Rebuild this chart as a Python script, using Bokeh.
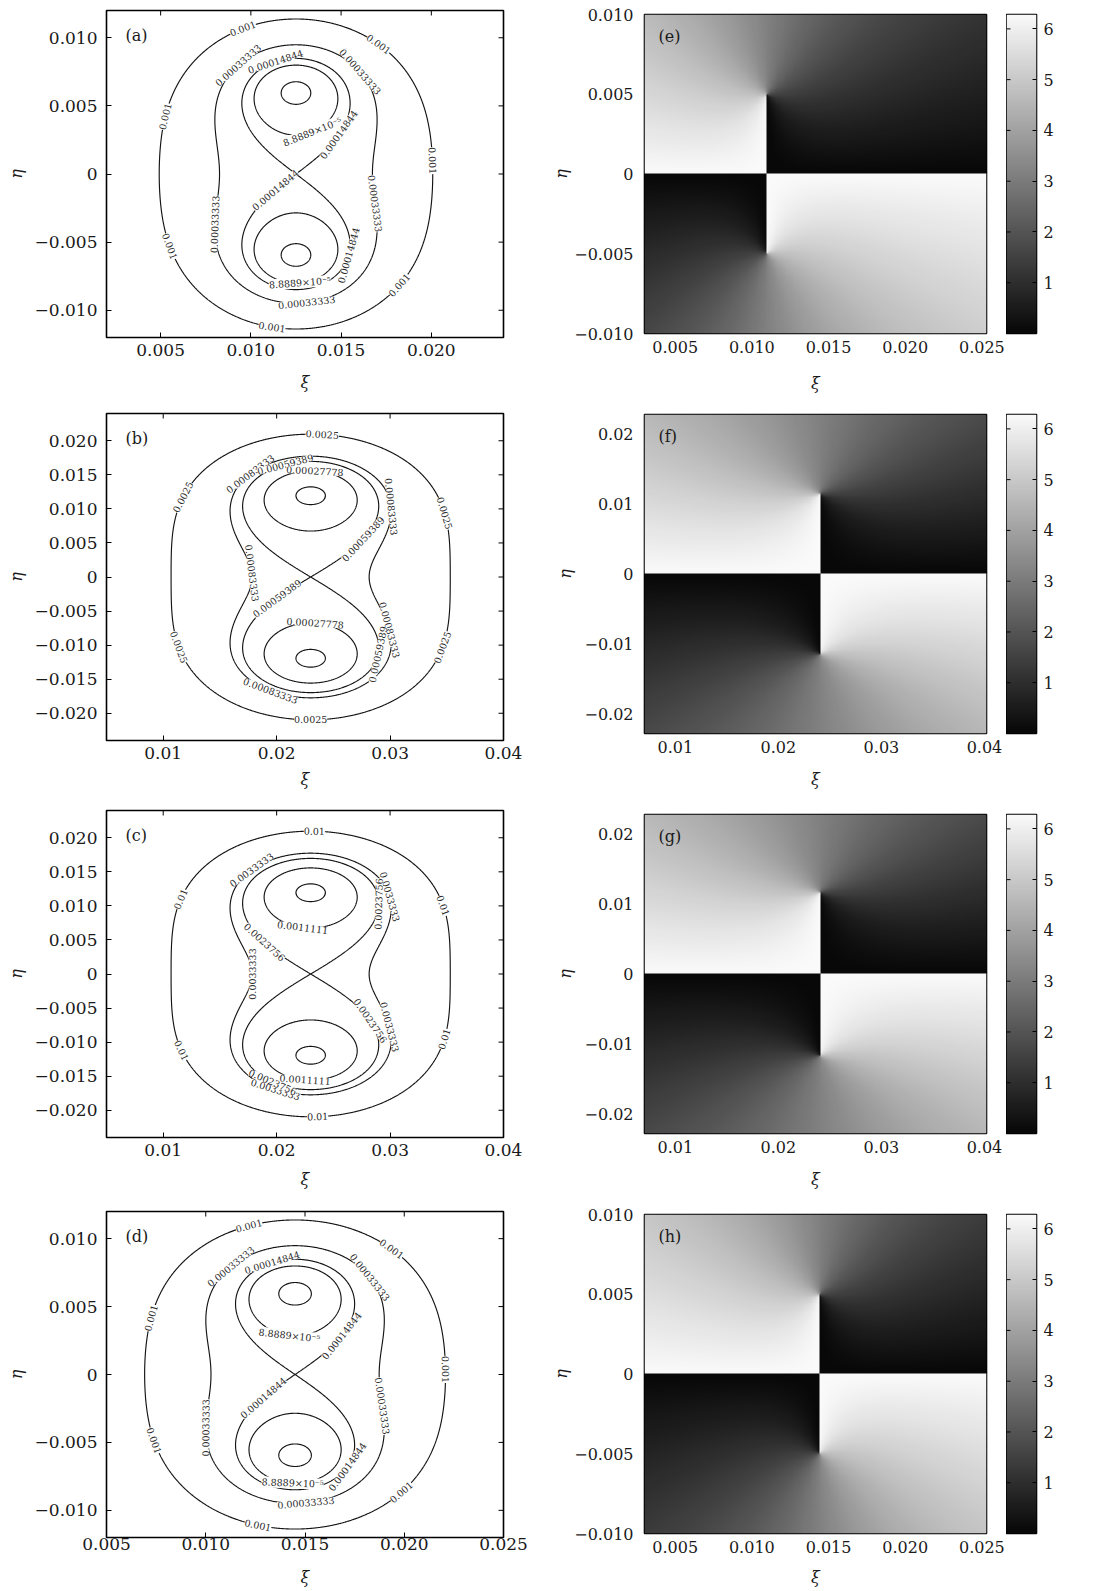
import numpy as np
from bokeh.plotting import figure
from bokeh.layouts import row, column
from bokeh.models import (Range1d, FixedTicker, CustomJSTickFormatter,
                          LinearColorMapper, Label)
from bokeh.core.properties import value
from bokeh.embed import file_html
from bokeh.resources import INLINE

FONT = "DejaVu Serif"

# ---------------- data: contour panels (a)-(d) ----------------
# (xi of centre, eta of the two minima)
a_centre = (0.0125, 0.006)
b_centre = (0.023, 0.012)
c_centre = (0.023, 0.012)
d_centre = (0.0145, 0.006)
a_levels = [1.1111e-5, 8.8889e-5, 0.00014844, 0.00033333, 0.001]
b_levels = [2.7778e-5, 0.00027778, 0.00059389, 0.00083333, 0.0025]
c_levels = [0.00011111, 0.0011111, 0.0023756, 0.0033333, 0.01]
d_levels = [1.1111e-5, 8.8889e-5, 0.00014844, 0.00033333, 0.001]
a_level_text = ["", "8.8889×10⁻⁵", "0.00014844", "0.00033333", "0.001"]
b_level_text = ["", "0.00027778", "0.00059389", "0.00083333", "0.0025"]
c_level_text = ["", "0.0011111", "0.0023756", "0.0033333", "0.01"]
d_level_text = ["", "8.8889×10⁻⁵", "0.00014844", "0.00033333", "0.001"]
SEPARATRIX = 2  # index of the level through the saddle point

# ---------------- data: phase panels (e)-(h) ----------------
e_vortex = (0.011, 0.005)
f_vortex = (0.024, 0.0115)
g_vortex = (0.024, 0.0117)
h_vortex = (0.0144, 0.005)
cbar_ticks = [1, 2, 3, 4, 5, 6]
cbar_labels = ["1", "2", "3", "4", "5", "6"]

# ---------------- ticks ----------------
a_xticks = [0.005, 0.010, 0.015, 0.020]
a_xlabels = ["0.005", "0.010", "0.015", "0.020"]
a_yticks = [-0.010, -0.005, 0.0, 0.005, 0.010]
a_ylabels = ["−0.010", "−0.005", "0", "0.005", "0.010"]
b_xticks = [0.01, 0.02, 0.03, 0.04]
b_xlabels = ["0.01", "0.02", "0.03", "0.04"]
b_yticks = [-0.020, -0.015, -0.010, -0.005, 0.0, 0.005, 0.010, 0.015, 0.020]
b_ylabels = ["−0.020", "−0.015", "−0.010", "−0.005", "0", "0.005", "0.010", "0.015", "0.020"]
d_xticks = [0.005, 0.010, 0.015, 0.020, 0.025]
d_xlabels = ["0.005", "0.010", "0.015", "0.020", "0.025"]
e_xticks = [0.005, 0.010, 0.015, 0.020, 0.025]
e_xlabels = ["0.005", "0.010", "0.015", "0.020", "0.025"]
e_yticks = [-0.010, -0.005, 0.0, 0.005, 0.010]
e_ylabels = ["−0.010", "−0.005", "0", "0.005", "0.010"]
f_xticks = [0.01, 0.02, 0.03, 0.04]
f_xlabels = ["0.01", "0.02", "0.03", "0.04"]
f_yticks = [-0.02, -0.01, 0.0, 0.01, 0.02]
f_ylabels = ["−0.02", "−0.01", "0", "0.01", "0.02"]

# ---------------- label placements (approximate, snapped onto the contours) ----------------
a_lab = [(4, 0.00959, 0.0106), (4, 0.01709, 0.00952), (4, 0.00496, 0.00428), (4, 0.01996, 0.00098),
         (4, 0.00524, -0.00539), (4, 0.01811, -0.00808), (4, 0.01117, -0.01125),
         (3, 0.00903, 0.0082), (3, 0.0158, 0.00734), (3, 0.00802, -0.0037), (3, 0.01663, -0.0022),
         (3, 0.01302, -0.00894),
         (2, 0.01144, 0.00808), (2, 0.01478, 0.00294), (2, 0.01126, -0.0011), (2, 0.01514, -0.00593),
         (1, 0.01302, 0.00404), (1, 0.01264, -0.00723)]
b_lab = [(4, 0.02403, 0.02097), (4, 0.01153, 0.01178), (4, 0.03462, 0.00933), (4, 0.01138, -0.0103),
         (4, 0.03447, -0.0103), (4, 0.023, -0.0211),
         (3, 0.01726, 0.01546), (3, 0.02917, 0.0103), (3, 0.01667, 0.0005), (3, 0.02946, -0.00785),
         (3, 0.01947, -0.01668),
         (2, 0.02079, 0.01645), (2, 0.02712, 0.00589), (2, 0.02006, -0.00318), (2, 0.02771, -0.01128),
         (1, 0.02329, 0.01472), (1, 0.02329, -0.00785)]
c_lab = [(4, 0.02332, 0.02082), (4, 0.01141, 0.01103), (4, 0.03465, 0.01004), (4, 0.01141, -0.01128),
         (4, 0.0348, -0.00956), (4, 0.02362, -0.02109),
         (3, 0.01789, 0.01519), (3, 0.0295, 0.01127), (3, 0.01715, 0.0), (3, 0.0295, -0.00785),
         (3, 0.01979, -0.01716),
         (2, 0.02848, 0.0103), (2, 0.01891, 0.00465), (2, 0.02774, -0.00711), (2, 0.01979, -0.01569),
         (1, 0.02244, 0.00759), (1, 0.02259, -0.01496)]
d_lab = [(4, 0.01214, 0.01104), (4, 0.01932, 0.0092), (4, 0.00716, 0.00417), (4, 0.02203, 0.00037),
         (4, 0.00725, -0.0049), (4, 0.01992, -0.00872), (4, 0.01257, -0.01129),
         (3, 0.01138, 0.00785), (3, 0.01797, 0.007), (3, 0.010, -0.00393), (3, 0.01882, -0.00233),
         (3, 0.01502, -0.00925),
         (2, 0.01341, 0.0081), (2, 0.0167, 0.00294), (2, 0.0129, -0.00172), (2, 0.0173, -0.00687),
         (1, 0.01434, 0.00392), (1, 0.01442, -0.00724)]


def tick_fmt(tvals, tlabs):
    return CustomJSTickFormatter(args=dict(tvals=list(tvals), tlabs=list(tlabs)), code="""
        for (let i = 0; i < tvals.length; i++) {
            if (Math.abs(tvals[i] - tick) < 1e-9) { return tlabs[i]; }
        }
        return "";
    """)


def style_axis(ax, tvals, tlabs, size, standoff, label_standoff, tick_len=5):
    ax.ticker = FixedTicker(ticks=list(tvals))
    ax.formatter = tick_fmt(tvals, tlabs)
    ax.major_label_text_font = FONT
    ax.major_label_text_font_size = size
    ax.major_label_text_color = "#1a1a1a"
    ax.major_label_standoff = standoff
    ax.axis_line_color = None
    ax.major_tick_in = tick_len
    ax.major_tick_out = 0
    ax.major_tick_line_color = "black"
    ax.minor_tick_line_color = None
    ax.axis_label_text_font = FONT
    ax.axis_label_text_font_style = "italic"
    ax.axis_label_text_font_size = "16px"
    ax.axis_label_text_color = "#1a1a1a"
    ax.axis_label_standoff = label_standoff


def base_figure(W, H, xr, yr, bl, br, bt, bb, **kw):
    p = figure(width=W, height=H, x_range=Range1d(*xr), y_range=Range1d(*yr),
               output_backend="svg", toolbar_location=None,
               min_border_left=bl, min_border_right=br, min_border_top=bt, min_border_bottom=bb, **kw)
    p.xgrid.visible = False
    p.ygrid.visible = False
    p.outline_line_color = "black"
    p.outline_line_width = 1.6
    p.background_fill_color = "white"
    return p


def contour_panel(tag, centre, levels, texts, labs, xr, yr, xt, xtl, yt, ytl,
                  H, bt, bb, x_lab_so, x_tick_so):
    W, bl, br = 538, 106, 35
    fw, fh = W - bl - br, H - bt - bb
    p = base_figure(W, H, xr, yr, bl, br, bt, bb)
    xc, a = centre
    K = levels[SEPARATRIX] / a ** 4

    def F(x, y):
        P = (x - xc) ** 2 + (y - a) ** 2
        Q = (x - xc) ** 2 + (y + a) ** 2
        return K * P * Q

    def G(x, y):
        P = (x - xc) ** 2 + (y - a) ** 2
        Q = (x - xc) ** 2 + (y + a) ** 2
        gx = K * (2 * (x - xc) * Q + 2 * (x - xc) * P)
        gy = K * (2 * (y - a) * Q + 2 * (y + a) * P)
        return gx, gy

    xs = np.linspace(xr[0], xr[1], 600)
    ys = np.linspace(yr[0], yr[1], 600)
    X, Y = np.meshgrid(xs, ys)
    p.contour(xs, ys, F(X, Y), levels, line_color="#141414", line_width=1.15)

    sx = fw / (xr[1] - xr[0])
    sy = fh / (yr[1] - yr[0])
    lx, ly, lt, la = [], [], [], []
    step_max = 0.2 * (xr[1] - xr[0]) / 20
    for (li, x, y) in labs:
        L = levels[li]
        for _ in range(60):
            gx, gy = G(x, y)
            g2 = gx * gx + gy * gy
            if g2 == 0:
                break
            dx = -(F(x, y) - L) * gx / g2
            dy = -(F(x, y) - L) * gy / g2
            n = np.hypot(dx, dy)
            if n > step_max:
                dx, dy = dx * step_max / n, dy * step_max / n
            x, y = x + dx, y + dy
        gx, gy = G(x, y)
        ang = np.arctan2(gx / sx, -gy / sy)
        while ang > np.pi / 2:
            ang -= np.pi
        while ang <= -np.pi / 2:
            ang += np.pi
        lx.append(float(x)); ly.append(float(y)); lt.append(texts[li]); la.append(float(ang))
    p.text(x=lx, y=ly, text=lt, angle=la, text_font=value(FONT), text_font_size="9.5px",
           text_align="center", text_baseline="middle", text_color="#2a2a2a",
           background_fill_color="white")

    style_axis(p.xaxis[0], xt, xtl, "17px", x_tick_so, x_lab_so)
    style_axis(p.yaxis[0], yt, ytl, "17px", 9, 6)
    p.xaxis[0].axis_label = "ξ"
    p.yaxis[0].axis_label = "η"
    # mirrored inward ticks on the top and right edges
    p.ray(x=list(xt), y=yr[1], length=5, angle=-np.pi / 2, length_units="screen",
          line_color="black", line_width=1)
    p.ray(x=xr[1], y=list(yt), length=5, angle=np.pi, length_units="screen",
          line_color="black", line_width=1)
    p.add_layout(Label(x=xr[0] + 19 / sx, y=yr[1] - 25 / sy, text=tag, text_font=FONT,
                       text_font_size="16px", text_baseline="middle", text_color="#1a1a1a"))
    return p


GREYS = ["#%02x%02x%02x" % (v, v, v) for v in np.linspace(8, 250, 256).astype(int)]
mapper = LinearColorMapper(palette=GREYS, low=0, high=2 * np.pi)


def phase_panel(tag, vortex, xr, yr, xt, xtl, yt, ytl, H, bt, bb, y_lab_so, x_lab_so):
    W, bl, br = 468, 106, 20
    fw, fh = W - bl - br, H - bt - bb
    p = base_figure(W, H, xr, yr, bl, br, bt, bb)
    x0, y0 = vortex
    xs = np.linspace(xr[0], xr[1], 380)
    ys = np.linspace(yr[0], yr[1], 360)
    X, Y = np.meshgrid(xs, ys)
    phi = np.mod(np.arctan2(Y - y0, X - x0) + np.arctan2(Y + y0, X - x0), 2 * np.pi)
    p.image(image=[phi], x=xr[0], y=yr[0], dw=xr[1] - xr[0], dh=yr[1] - yr[0],
            color_mapper=mapper)
    style_axis(p.xaxis[0], xt, xtl, "16px", 7, x_lab_so, tick_len=0)
    style_axis(p.yaxis[0], yt, ytl, "16px", 11, y_lab_so, tick_len=0)
    p.xaxis[0].axis_label = "ξ"
    p.yaxis[0].axis_label = "η"
    sx = fw / (xr[1] - xr[0])
    sy = fh / (yr[1] - yr[0])
    p.add_layout(Label(x=xr[0] + 14 / sx, y=yr[1] - 22 / sy, text=tag, text_font=FONT,
                       text_font_size="16px", text_baseline="middle", text_color="#1a1a1a"))

    cb = figure(width=94, height=H, x_range=Range1d(0, 1), y_range=Range1d(0, 2 * np.pi),
                output_backend="svg", toolbar_location=None, x_axis_location=None,
                y_axis_location="right", min_border_left=0, min_border_right=64,
                min_border_top=bt, min_border_bottom=bb)
    cb.xgrid.visible = False
    cb.ygrid.visible = False
    cb.outline_line_color = "black"
    cb.outline_line_width = 1.6
    grad = np.linspace(0, 2 * np.pi, 256).reshape(-1, 1)
    cb.image(image=[grad], x=0, y=0, dw=1, dh=2 * np.pi, color_mapper=mapper)
    style_axis(cb.yaxis[0], cbar_ticks, cbar_labels, "16px", 7, 0, tick_len=4)
    cb.ray(x=0, y=cbar_ticks, length=4, angle=0, length_units="screen",
           line_color="black", line_width=1)
    return row(p, cb)


fa = contour_panel("(a)", a_centre, a_levels, a_level_text, a_lab, (0.002, 0.024), (-0.012, 0.012),
                   a_xticks, a_xlabels, a_yticks, a_ylabels, 403, 10, 66, 14, 6)
fb = contour_panel("(b)", b_centre, b_levels, b_level_text, b_lab, (0.005, 0.040), (-0.024, 0.024),
                   b_xticks, b_xlabels, b_yticks, b_ylabels, 397, 10, 60, 8, 6)
fc = contour_panel("(c)", c_centre, c_levels, c_level_text, c_lab, (0.005, 0.040), (-0.024, 0.024),
                   b_xticks, b_xlabels, b_yticks, b_ylabels, 401, 10, 64, 11, 6)
fd = contour_panel("(d)", d_centre, d_levels, d_level_text, d_lab, (0.005, 0.025), (-0.012, 0.012),
                   d_xticks, d_xlabels, a_yticks, a_ylabels, 390, 10, 54, 15, 0)

fe = phase_panel("(e)", e_vortex, (0.003, 0.0253), (-0.010, 0.010), e_xticks, e_xlabels,
                 e_yticks, e_ylabels, 404, 14, 71, 0, 18)
ff = phase_panel("(f)", f_vortex, (0.007, 0.0402), (-0.0228, 0.0228), f_xticks, f_xlabels,
                 f_yticks, f_ylabels, 400, 10, 71, 6, 14)
fg = phase_panel("(g)", g_vortex, (0.007, 0.0402), (-0.0228, 0.0228), f_xticks, f_xlabels,
                 f_yticks, f_ylabels, 400, 10, 71, 6, 14)
fh = phase_panel("(h)", h_vortex, (0.003, 0.0253), (-0.010, 0.010), e_xticks, e_xlabels,
                 e_yticks, e_ylabels, 387, 10, 58, 0, 12)

layout = row(column(fa, fb, fc, fd), column(fe, ff, fg, fh))

open("out.html", "w").write(file_html(layout, INLINE))
